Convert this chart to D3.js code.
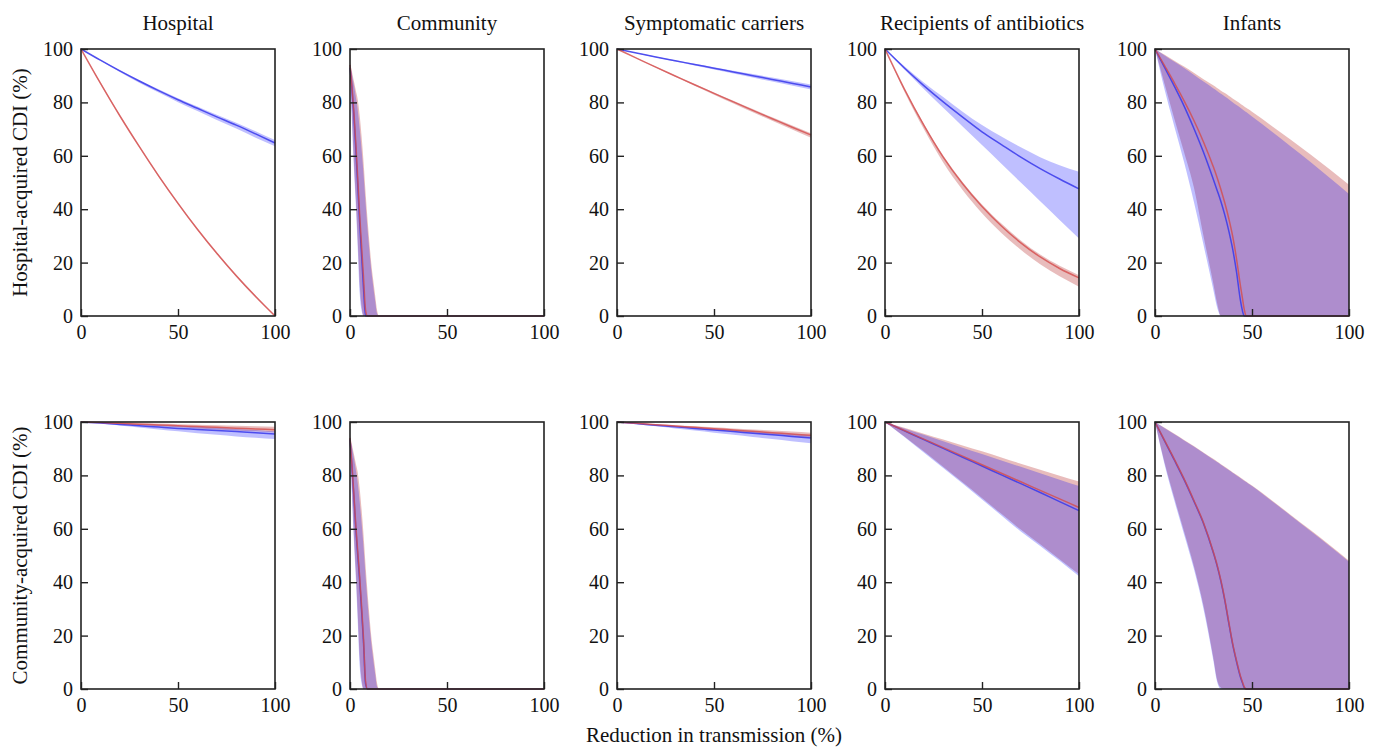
<!DOCTYPE html>
<html>
<head>
<meta charset="utf-8">
<script src="https://cdn.jsdelivr.net/npm/d3@7"></script>
<style>
  body { margin: 0; background: #fff; }
  svg { display: block; }
</style>
</head>
<body>
<script>
// ---------------- DATA ----------------
const panelTitles = ["Hospital", "Community", "Symptomatic carriers", "Recipients of antibiotics", "Infants"];
const rowLabels = ["Hospital-acquired CDI (%)", "Community-acquired CDI (%)"];
const xAxisLabel = "Reduction in transmission (%)";
const xTicks = [0, 50, 100];
const yTicks = [0, 20, 40, 60, 80, 100];

// Hospital
const hosp_x = [0,10,20,30,40,50,60,70,80,90,100];
const hosp_HA_blue_mid = [100,95.8,91.8,88.0,84.4,81.0,77.8,74.6,71.5,68.2,64.8];
const hosp_HA_blue_lo  = [100,95.6,91.4,87.4,83.7,80.1,76.8,73.4,70.2,66.8,63.6];
const hosp_HA_blue_hi  = [100,96.0,92.1,88.4,84.9,81.6,78.5,75.4,72.4,69.2,65.9];
const hosp_HA_red_mid  = [100,87.2,75,63.5,52.5,42.2,32.5,23.5,15.1,7.3,0];
const hosp_HA_red_lo   = [100,86.8,74.6,63.1,52.1,41.8,32.1,23.1,14.7,6.9,0];
const hosp_HA_red_hi   = [100,87.6,75.4,63.9,52.9,42.6,32.9,23.9,15.5,7.7,0.3];
const hosp_CA_blue_mid = [100,99.6,99.1,98.6,98.1,97.6,97.2,96.8,96.4,96.0,95.5];
const hosp_CA_blue_lo  = [100,99.4,98.7,97.9,97.2,96.5,95.8,95.2,94.6,94.1,93.6];
const hosp_CA_blue_hi  = [100,99.8,99.5,99.2,98.9,98.6,98.2,97.8,97.4,97.0,96.5];
const hosp_CA_red_mid  = [100,99.8,99.5,99.2,98.9,98.6,98.3,98.0,97.7,97.4,97.1];
const hosp_CA_red_lo   = [100,99.6,99.2,98.8,98.4,98.0,97.6,97.2,96.8,96.5,96.1];
const hosp_CA_red_hi   = [100,99.9,99.8,99.6,99.4,99.2,99.0,98.8,98.6,98.4,98.2];

// Community
const comm_x = [0,1,2,3,4,5,6,7,8,9,10,11,12,13,14,15,16,18,20,100];
const comm_HA_blue_mid = [93,85,75,62.5,49,35,22.5,10,0,0,0,0,0,0,0,0,0,0,0,0];
const comm_HA_blue_lo  = [93,72,55.5,41.5,25,8.5,2,0,0,0,0,0,0,0,0,0,0,0,0,0];
const comm_HA_blue_hi  = [94.5,90.5,86.5,82,77,70,62,53,42.5,33,24.5,17,11,5.5,0.8,0,0,0,0,0];
const comm_HA_red_mid  = [94,86,76.5,64.7,51.4,37.6,25.9,14.1,2.4,0,0,0,0,0,0,0,0,0,0,0];
const comm_HA_red_lo   = [93.5,75,58,44,28,12,3.5,0,0,0,0,0,0,0,0,0,0,0,0,0];
const comm_HA_red_hi   = [95,91.5,88,84.5,81,75,67,57.5,46.5,36.5,27.5,19.5,13.3,7.5,2,0,0,0,0,0];
const comm_CA_blue_mid = [93.5,83,72,60,50,40.5,29,17,2,0,0,0,0,0,0,0,0,0,0,0];
const comm_CA_blue_lo  = [93,72,55.5,41.5,25,8.5,2,0,0,0,0,0,0,0,0,0,0,0,0,0];
const comm_CA_blue_hi  = [94.5,90.5,86.5,82,77,70,62,53,42.5,33,24.5,17,11,5.5,0.8,0,0,0,0,0];
const comm_CA_red_mid  = [94,84,72.9,61.2,51.4,41.9,30.6,18.5,3.1,0,0,0,0,0,0,0,0,0,0,0];
const comm_CA_red_lo   = [93.5,75,58,44,28,12,3.5,0,0,0,0,0,0,0,0,0,0,0,0,0];
const comm_CA_red_hi   = [95,91.5,88,84.5,81,75,67,57.5,46.5,36.5,27.5,19.5,13.3,7.5,2,0,0,0,0,0];

// Symptomatic carriers
const symp_x = [0,10,20,30,40,50,60,70,80,90,100];
const symp_HA_blue_mid = [100,98.5,97.0,95.6,94.2,92.8,91.4,90.0,88.6,87.2,85.8];
const symp_HA_blue_lo  = [100,98.4,96.8,95.3,93.8,92.3,90.8,89.3,87.8,86.3,84.8];
const symp_HA_blue_hi  = [100,98.6,97.2,95.8,94.5,93.2,91.9,90.6,89.3,88.0,86.7];
const symp_HA_red_mid  = [100,96.6,93.2,89.9,86.6,83.4,80.2,77.0,73.9,70.8,67.8];
const symp_HA_red_lo   = [100,96.5,93.0,89.6,86.2,82.9,79.6,76.3,73.1,69.9,66.8];
const symp_HA_red_hi   = [100,96.7,93.4,90.1,86.9,83.7,80.6,77.5,74.4,71.4,68.4];
const symp_CA_blue_mid = [100,99.4,98.8,98.2,97.6,97.0,96.4,95.8,95.2,94.6,94.0];
const symp_CA_blue_lo  = [100,99.2,98.4,97.6,96.8,96.0,95.2,94.4,93.6,92.8,92.0];
const symp_CA_blue_hi  = [100,99.5,99.0,98.5,98.0,97.5,97.0,96.5,96.0,95.5,95.0];
const symp_CA_red_mid  = [100,99.5,99.0,98.5,98.0,97.5,97.0,96.5,96.0,95.5,95.0];
const symp_CA_red_lo   = [100,99.4,98.8,98.2,97.6,97.0,96.4,95.8,95.2,94.6,94.0];
const symp_CA_red_hi   = [100,99.6,99.2,98.8,98.4,98.0,97.6,97.2,96.8,96.4,96.0];

// Recipients of antibiotics
const recip_x = [0,10,20,30,40,50,60,70,80,90,100];
const recip_HA_blue_mid = [100,92.9,86.3,80.2,74.5,69.0,64.2,59.5,55.2,51.3,47.6];
const recip_HA_blue_lo  = [100,92.3,85.0,78.0,71.0,64.0,57.0,50.0,43.0,36.0,29.0];
const recip_HA_blue_hi  = [100,93.5,87.5,82.0,76.5,71.5,67.2,63.2,59.5,56.5,54.0];
const recip_HA_red_mid  = [100,85,71.5,59.5,49.5,41,33.7,27.4,22.1,17.8,14.3];
const recip_HA_red_lo   = [100,84,70,57.5,47.2,38.5,31.1,24.8,19.4,14.9,11];
const recip_HA_red_hi   = [100,85.3,72,60.1,50.2,41.8,34.6,28.3,23,18.8,15.3];
const recip_CA_blue_mid = [100,96.7,93.4,90.1,86.8,83.5,80.2,76.9,73.6,70.2,66.8];
const recip_CA_blue_lo  = [100,94.4,88.6,82.8,77.0,71.0,65.0,59.0,53.6,48.0,42.2];
const recip_CA_blue_hi  = [100,97.6,95.2,92.8,90.4,88.0,85.6,83.2,80.8,78.4,76.0];
const recip_CA_red_mid  = [100,96.8,93.6,90.4,87.2,84.0,80.8,77.6,74.4,71.2,68.0];
const recip_CA_red_lo   = [100,94.6,89.0,83.2,77.4,71.5,65.6,59.7,54.2,48.6,43.0];
const recip_CA_red_hi   = [100,97.8,95.6,93.4,91.2,89.0,86.7,84.4,82.1,79.9,77.7];

// Infants
const inf_x = [0,5,10,15,20,25,30,32,34,36,38,40,42,44,45,46,47,48,50,60,70,80,90,100];
const inf_HA_blue_mid = [100,93,86,78.6,70.3,61.3,51.3,47.1,42.8,37.8,32.0,25.2,16.6,6,2.2,0,0,0,0,0,0,0,0,0];
const inf_HA_blue_lo  = [100,84.6,70.9,57.6,42.9,26.7,10,3.3,0,0,0,0,0,0,0,0,0,0,0,0,0,0,0,0];
const inf_HA_blue_hi  = [100,97.6,95.2,92.9,90.4,87.8,85.3,84.3,83.2,82.2,81.2,80.1,79.0,78.0,77.4,76.9,76.4,75.8,74.7,69.2,63.5,57.8,51.8,45.7];
const inf_HA_red_mid  = [100,93.7,87.3,80.6,73.3,65.2,56,51.9,47.3,42.3,36.6,30,21.5,11.5,7,2.5,0,0,0,0,0,0,0,0];
const inf_HA_red_lo   = [100,86.7,73.8,61.3,48.3,30,12.4,4.9,0,0,0,0,0,0,0,0,0,0,0,0,0,0,0,0];
const inf_HA_red_hi   = [100,97.8,95.6,93.4,91.1,88.7,86.4,85.4,84.4,83.5,82.5,81.5,80.5,79.5,79.0,78.5,78.0,77.5,76.5,71.3,66.0,60.6,55.0,49.2];
const inf_CA_blue_mid = [100,92.8,85.7,78.4,70.4,62,51.2,46.2,40.2,33.1,24.8,16.8,10.3,4.6,2.4,0.5,0,0,0,0,0,0,0,0];
const inf_CA_blue_lo  = [100,83.9,70.5,57.9,45.1,30,11,2.7,0,0,0,0,0,0,0,0,0,0,0,0,0,0,0,0];
const inf_CA_blue_hi  = [100,97.7,95.4,93.1,90.8,88.4,86.0,85.0,84.0,83.0,82.0,81.0,80.0,79.0,78.5,78.0,77.5,77.0,76.0,70.5,64.9,59.3,53.6,47.7];
const inf_CA_red_mid  = [100,93,86,78.7,70.7,62.3,51.5,46.5,40.6,33.5,25.2,17.2,10.7,5,2.8,0.8,0,0,0,0,0,0,0,0];
const inf_CA_red_lo   = [100,84.6,71.5,59,46.2,31.2,12,3.5,0.5,0,0,0,0,0,0,0,0,0,0,0,0,0,0,0];
const inf_CA_red_hi   = [100,97.8,95.6,93.3,91,88.6,86.2,85.2,84.2,83.2,82.2,81.2,80.2,79.2,78.7,78.2,77.7,77.2,76.2,70.8,65.2,59.6,53.9,48.0];

// table built from the arrays: [column][row]
const panels = [
  { x: hosp_x, rows: [
    { blue: [hosp_HA_blue_mid, hosp_HA_blue_lo, hosp_HA_blue_hi], red: [hosp_HA_red_mid, hosp_HA_red_lo, hosp_HA_red_hi] },
    { blue: [hosp_CA_blue_mid, hosp_CA_blue_lo, hosp_CA_blue_hi], red: [hosp_CA_red_mid, hosp_CA_red_lo, hosp_CA_red_hi] } ] },
  { x: comm_x, rows: [
    { blue: [comm_HA_blue_mid, comm_HA_blue_lo, comm_HA_blue_hi], red: [comm_HA_red_mid, comm_HA_red_lo, comm_HA_red_hi] },
    { blue: [comm_CA_blue_mid, comm_CA_blue_lo, comm_CA_blue_hi], red: [comm_CA_red_mid, comm_CA_red_lo, comm_CA_red_hi] } ] },
  { x: symp_x, rows: [
    { blue: [symp_HA_blue_mid, symp_HA_blue_lo, symp_HA_blue_hi], red: [symp_HA_red_mid, symp_HA_red_lo, symp_HA_red_hi] },
    { blue: [symp_CA_blue_mid, symp_CA_blue_lo, symp_CA_blue_hi], red: [symp_CA_red_mid, symp_CA_red_lo, symp_CA_red_hi] } ] },
  { x: recip_x, rows: [
    { blue: [recip_HA_blue_mid, recip_HA_blue_lo, recip_HA_blue_hi], red: [recip_HA_red_mid, recip_HA_red_lo, recip_HA_red_hi] },
    { blue: [recip_CA_blue_mid, recip_CA_blue_lo, recip_CA_blue_hi], red: [recip_CA_red_mid, recip_CA_red_lo, recip_CA_red_hi] } ] },
  { x: inf_x, rows: [
    { blue: [inf_HA_blue_mid, inf_HA_blue_lo, inf_HA_blue_hi], red: [inf_HA_red_mid, inf_HA_red_lo, inf_HA_red_hi] },
    { blue: [inf_CA_blue_mid, inf_CA_blue_lo, inf_CA_blue_hi], red: [inf_CA_red_mid, inf_CA_red_lo, inf_CA_red_hi] } ] }
];

// ---------------- LAYOUT ----------------
const W = 1378, H = 747;
const FONT = "'Liberation Serif', 'Times New Roman', Times, serif";
const colLeft = [81, 350, 617, 885, 1155];
const rowTop = [49, 422];
const pw = 194, ph = 267;
const frameColor = "#222";

const svg = d3.select("body").append("svg")
  .attr("width", W).attr("height", H)
  .attr("font-family", FONT);

const x = d3.scaleLinear().domain([0, 100]).range([0, pw]);
const y = d3.scaleLinear().domain([0, 100]).range([ph, 0]);

const styles = {
  red:  { fill: "rgb(178,34,34)", fillOpacity: 0.3, stroke: "rgb(212,75,75)", strokeOpacity: 0.8 },
  blue: { fill: "rgb(0,0,255)",   fillOpacity: 0.25, stroke: "rgb(55,55,235)", strokeOpacity: 0.85 }
};

panels.forEach((p, c) => {
  svg.append("text")
    .attr("x", colLeft[c] + pw / 2).attr("y", 30)
    .attr("text-anchor", "middle").attr("font-size", 21).attr("fill", "#111")
    .text(panelTitles[c]);

  p.rows.forEach((row, r) => {
    const g = svg.append("g").attr("transform", `translate(${colLeft[c]},${rowTop[r]})`);
    const idx = d3.range(p.x.length);

    const area = (lo, hi) => d3.area()
      .x(i => x(p.x[i])).y0(i => y(lo[i])).y1(i => y(hi[i]))
      .curve(d3.curveMonotoneX);
    const line = (mid) => d3.line()
      .x(i => x(p.x[i])).y(i => y(mid[i]))
      .curve(d3.curveMonotoneX);

    ["red", "blue"].forEach(k => {
      const [mid, lo, hi] = row[k];
      g.append("path").datum(idx)
        .attr("d", area(lo, hi))
        .attr("fill", styles[k].fill).attr("fill-opacity", styles[k].fillOpacity)
        .attr("stroke", "none");
    });
    ["blue", "red"].forEach(k => {
      const [mid] = row[k];
      g.append("path").datum(idx)
        .attr("d", line(mid))
        .attr("fill", "none")
        .attr("stroke", styles[k].stroke).attr("stroke-opacity", styles[k].strokeOpacity)
        .attr("stroke-width", 1.5);
    });

    const ya = g.append("g").attr("color", frameColor)
      .call(d3.axisLeft(y).tickValues(yTicks).tickSize(-7).tickPadding(8).tickFormat(d3.format("d")));
    ya.select(".domain").remove();
    ya.attr("font-family", FONT).attr("font-size", 20);
    ya.selectAll("text").attr("fill", "#111");
    ya.selectAll("line").attr("stroke-width", 1.4);

    const xa = g.append("g").attr("color", frameColor)
      .attr("transform", `translate(0,${ph})`)
      .call(d3.axisBottom(x).tickValues(xTicks).tickSize(-7).tickPadding(9).tickFormat(d3.format("d")));
    xa.select(".domain").remove();
    xa.attr("font-family", FONT).attr("font-size", 20);
    xa.selectAll("text").attr("fill", "#111");
    xa.selectAll("line").attr("stroke-width", 1.4);

    g.append("rect")
      .attr("x", 0).attr("y", 0).attr("width", pw).attr("height", ph)
      .attr("fill", "none").attr("stroke", frameColor).attr("stroke-width", 1.6);
  });
});

rowLabels.forEach((lab, r) => {
  svg.append("text")
    .attr("transform", `translate(27,${rowTop[r] + ph / 2}) rotate(-90)`)
    .attr("text-anchor", "middle").attr("font-size", 21).attr("fill", "#111")
    .text(lab);
});

svg.append("text")
  .attr("x", colLeft[2] + pw / 2).attr("y", 742)
  .attr("text-anchor", "middle").attr("font-size", 21).attr("fill", "#111")
  .text(xAxisLabel);
</script>
</body>
</html>
